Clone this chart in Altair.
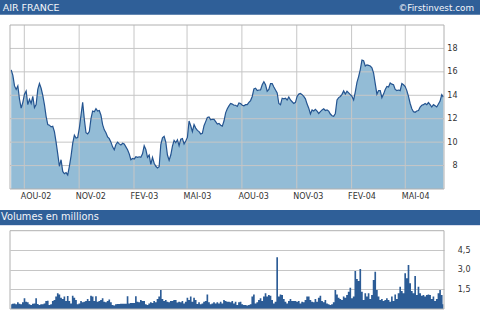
import altair as alt
import pandas as pd

# ---------------- texts ----------------
title_text = "AIR FRANCE"
source_text = "\u00a9Firstinvest.com"
volume_title = "Volumes en millions"

# ---------------- axes data ----------------
tick_dates = ["2002-08-01", "2002-11-01", "2003-02-01", "2003-05-01",
              "2003-08-01", "2003-11-01", "2004-02-01", "2004-05-01"]
tick_labels = ["AOU-02", "NOV-02", "FEV-03", "MAI-03",
               "AOU-03", "NOV-03", "FEV-04", "MAI-04"]
price_ticks = [8, 10, 12, 14, 16, 18]
volume_ticks = [1.5, 3.0, 4.5]
x_domain = ["2002-07-08", "2004-07-05"]
price_domain = [6, 20]
volume_domain = [0, 6]
series_start = "2002-07-10"
series_end = "2004-07-04"

# ---------------- series ----------------
price = [
    16.17, 15.7, 14.8, 14.5, 14.8, 13.66, 12.9, 13.4, 14.1, 14.37,
    13.2, 13.66, 13.3, 13.9, 12.95, 13.2, 14.5, 15.0, 14.6, 14.0,
    13.2, 12.2, 11.5, 11.45, 11.3, 11.35, 10.9, 10.0, 9.0, 7.94,
    8.5, 7.5, 7.3, 7.4, 7.2, 7.94, 8.8, 9.9, 10.6, 10.35,
    10.4, 11.2, 12.3, 13.4, 11.94, 10.8, 10.7, 10.9, 12.0, 12.66,
    12.6, 12.86, 12.66, 12.7, 12.3, 11.5, 11.05, 10.8, 10.45, 10.3,
    10.0, 9.6, 9.35, 9.8, 10.0, 9.85, 9.75, 9.9, 9.85, 9.6,
    9.35, 9.0, 8.5, 8.6, 8.55, 8.75, 8.7, 8.75, 8.7, 9.0,
    9.7, 9.37, 8.7, 8.9, 8.1, 8.7, 8.2, 7.94, 7.8, 7.9,
    9.8, 10.37, 10.5, 10.0, 8.9, 8.45, 8.9, 9.66, 10.15, 9.95,
    10.2, 9.7, 10.25, 10.3, 9.85, 10.1, 10.4, 11.8, 11.4, 10.9,
    11.5, 11.2, 11.0, 10.9, 10.7, 10.75, 11.4, 11.75, 12.1, 12.15,
    11.9, 11.95, 11.94, 11.75, 11.55, 11.6, 11.45, 11.37, 11.8, 12.5,
    12.85, 13.1, 13.3, 13.25, 13.15, 13.15, 13.05, 13.35,
    13.3, 13.15, 13.1, 13.2, 13.2, 13.4, 13.55, 13.9, 14.55, 14.6,
    14.4, 14.45, 14.45, 14.9, 15.15, 14.9, 14.35, 14.5, 15.0, 15.0,
    14.7, 14.45, 14.2, 13.3, 13.2, 13.75, 13.7, 13.75, 13.6, 13.85,
    13.6, 13.45, 13.3, 13.4, 13.9, 14.1, 14.15, 14.05, 13.9, 13.7,
    13.25, 12.9, 12.4, 12.75, 12.66, 12.8, 12.65, 12.45, 12.6, 12.75,
    12.85, 12.7, 12.75, 12.65, 12.4, 12.25, 12.2, 12.45, 13.6, 13.8,
    13.9, 14.08, 14.37, 14.1, 14.35, 14.2, 14.05, 13.9, 13.6, 14.3,
    15.1, 15.6, 16.2, 17.0, 16.95, 16.5, 16.6, 16.55, 16.5, 16.35,
    15.9, 15.0, 14.1, 14.4, 14.4, 13.8, 14.1, 14.5, 14.75, 14.7,
    15.05, 14.95, 14.9, 14.5, 14.4, 14.45, 14.4, 15.0, 14.9, 14.75,
    14.4, 13.9, 13.3, 12.85, 12.6, 12.55, 12.66, 12.7, 13.0, 13.15,
    13.2, 13.3, 13.2, 13.38, 13.2, 13.0, 13.2, 13.1, 13.0, 13.25,
    13.5, 14.05, 13.85,
]

volume = [
    0.36, 0.41, 0.43, 0.36, 0.51, 0.41, 0.36, 0.51, 0.82, 0.56,
    0.51, 0.36, 0.31, 0.41, 0.43, 0.82, 0.38, 0.31, 0.36, 0.36,
    0.43, 0.61, 0.64, 0.31, 0.36, 0.61, 0.69, 0.95, 1.2, 1.12,
    0.87, 0.77, 0.95, 0.61, 1.0, 0.61, 0.43, 1.02, 0.87, 0.69,
    0.36, 0.43, 0.61, 0.51, 0.56, 0.61, 0.77, 0.61, 1.02, 0.95,
    0.61, 0.97, 0.56, 0.61, 0.69, 0.82, 0.56, 0.51, 0.61, 0.72,
    0.51, 0.31, 0.26, 0.36, 0.38, 0.38, 0.41, 0.41, 0.41, 0.41,
    0.97, 0.43, 0.46, 0.46, 0.46, 0.97, 0.56, 0.51, 0.69, 0.61,
    0.61, 0.36, 0.31, 0.43, 0.51, 0.46, 0.61, 0.51, 0.77, 0.95,
    1.46, 0.77, 0.61, 0.69, 0.56, 0.51, 0.61, 0.61, 0.69, 0.69,
    0.49, 0.56, 0.51, 0.61, 0.43, 0.56, 0.87, 0.69, 0.95, 0.56,
    0.87, 0.69, 0.38, 0.51, 0.36, 0.43, 0.56, 0.61, 1.12, 0.51,
    0.36, 0.43, 0.51, 0.43, 0.51, 0.43, 0.56, 0.43, 0.69, 0.61,
    0.56,
    0.56, 0.51, 0.61, 0.43, 0.56, 0.31, 0.51, 0.56, 0.36, 0.31,
    0.31, 0.26, 0.31, 0.36, 0.95, 1.12, 0.43, 0.51, 0.69, 0.82,
    0.61, 0.95, 1.2, 0.95, 1.07, 1.02, 0.69, 0.43, 0.56, 3.96,
    0.95, 1.12, 1.07, 0.77, 0.56, 0.43, 0.61, 0.77, 0.61, 0.61,
    0.61, 0.56, 0.61, 0.43, 0.56, 0.51, 0.69, 0.95, 0.95, 0.69,
    0.56, 0.51, 0.77, 0.56, 0.87, 1.02, 0.61, 0.51, 0.69, 0.43,
    0.36, 0.31, 0.36, 0.51, 1.46, 1.12, 0.87, 0.77, 0.69, 0.95,
    0.87, 1.07, 1.33, 1.63, 0.82, 0.95, 2.91, 2.3, 2.15, 3.07,
    1.33, 0.69, 1.2, 0.95, 1.2, 0.77, 1.07, 2.22, 2.86, 1.46,
    0.95, 0.69, 0.77, 0.61, 0.69, 0.82, 0.69, 0.56, 0.95, 0.61,
    1.12, 0.77, 1.2, 1.71, 1.38, 1.2, 2.73, 2.35, 3.37, 1.97,
    1.38, 1.2, 2.53, 1.07, 1.71, 1.2, 1.02, 1.07, 0.95, 1.07,
    1.12, 1.07, 0.77, 0.95, 0.61, 0.77, 1.2, 1.46, 1.07, 0.36,
]

# ---------------- styling ----------------
HEADER = "#2f5f98"
FILL = "#93bcd6"
LINE = "#245490"
VOL = "#2c5c96"
GRID = "#c6c6c6"
BORDER = "#b0b0b0"
LABEL = "#333333"
FONT = "DejaVu Sans"

W, H = 434, 284
PRICE_BOTTOM = 164
VOL_TOP = 205.7


def to_ms(d):
    return int(pd.Timestamp(d).value // 10**6)


tick_ms = [to_ms(d) for d in tick_dates]
x_dom_ms = [to_ms(d) for d in x_domain]

price_df = pd.DataFrame({
    "t": (pd.date_range(series_start, series_end, periods=len(price)).asi8 // 10**6),
    "price": price,
})
price_df["base"] = price_domain[0]
vol_df = pd.DataFrame({
    "t": (pd.date_range(series_start, series_end, periods=len(volume)).asi8 // 10**6),
    "vol": volume,
})
vgrid_df = pd.DataFrame({"t": tick_ms})
hgrid_df = pd.DataFrame({"price": price_ticks})
one = pd.DataFrame({"k": [0]})

label_expr = "''"
for ms, lab in reversed(list(zip(tick_ms, tick_labels))):
    label_expr = f"time(datum.value) == {ms} ? '{lab}' : ({label_expr})"

x_scale = alt.Scale(domain=x_dom_ms, nice=False)
x_axis = alt.Axis(values=tick_ms, labelExpr=label_expr, grid=False, domain=False,
                  ticks=False, labelFont=FONT, labelFontSize=8, labelColor=LABEL,
                  labelAlign="left", labelOffset=-4, labelPadding=3,
                  labelBaseline="top", offset=PRICE_BOTTOM - H, title=None,
                  labelOverlap=False, labelFlush=False)

py_scale = alt.Scale(domain=price_domain, range=[PRICE_BOTTOM, 0], zero=False, nice=False)
py_axis = alt.Axis(values=price_ticks, orient="right", grid=False, domain=False,
                   ticks=False, labelAlign="right", labelPadding=13, labelFont=FONT,
                   labelFontSize=8, labelColor=LABEL, title=None, labelOverlap=False)

vy_scale = alt.Scale(domain=volume_domain, range=[H, VOL_TOP], nice=False)
vy_axis = alt.Axis(values=volume_ticks, orient="right", grid=True, gridColor=GRID,
                   domain=False, ticks=False, labelAlign="right", labelPadding=26,
                   labelFont=FONT, labelFontSize=8, labelColor=LABEL, title=None,
                   labelOverlap=False,
                   labelExpr="replace(format(datum.value, '.1f'), '.', ',')")

X = alt.X("t:T", scale=x_scale, axis=x_axis)

area = alt.Chart(price_df).mark_area(color=FILL, opacity=1).encode(
    x=X, y=alt.Y("price:Q", scale=py_scale, axis=py_axis), y2="base:Q")
vgrid = alt.Chart(vgrid_df).mark_rule(color=GRID, strokeWidth=1).encode(
    x=X, y=alt.value(0), y2=alt.value(PRICE_BOTTOM))
hgrid = alt.Chart(hgrid_df).mark_rule(color=GRID, strokeWidth=1).encode(
    y=alt.Y("price:Q", scale=py_scale, axis=py_axis), x=alt.value(0), x2=alt.value(W))
line = alt.Chart(price_df).mark_line(color=LINE, strokeWidth=1.2).encode(
    x=X, y=alt.Y("price:Q", scale=py_scale, axis=py_axis))
price_group = alt.layer(area, vgrid, hgrid, line)

vol_area = alt.Chart(vol_df).mark_area(interpolate="step", color=VOL, opacity=1).encode(
    x=X, y=alt.Y("vol:Q", scale=vy_scale, axis=vy_axis))
vol_group = alt.layer(vol_area)

border_price = alt.Chart(one).mark_rect(fillOpacity=0, stroke=BORDER, strokeWidth=1).encode(
    x=alt.value(0), x2=alt.value(W), y=alt.value(0), y2=alt.value(PRICE_BOTTOM))
border_vol = alt.Chart(one).mark_rect(fillOpacity=0, stroke=BORDER, strokeWidth=1).encode(
    x=alt.value(0), x2=alt.value(W), y=alt.value(VOL_TOP), y2=alt.value(H))

bar1 = alt.Chart(one).mark_rect(color=HEADER).encode(
    x=alt.value(-10), x2=alt.value(470), y=alt.value(-25), y2=alt.value(-10.3))
bar2 = alt.Chart(one).mark_rect(color=HEADER).encode(
    x=alt.value(-10), x2=alt.value(470), y=alt.value(185), y2=alt.value(200))
bar2_line = alt.Chart(one).mark_rect(color="#d8dded").encode(
    x=alt.value(-10), x2=alt.value(470), y=alt.value(200), y2=alt.value(201))

t1 = alt.Chart(one).mark_text(text=title_text, align="left", baseline="alphabetic",
                              font=FONT, fontSize=9.5, color="#f4f6fa").encode(
    x=alt.value(-7.3), y=alt.value(-14.4))
t2 = alt.Chart(one).mark_text(text=source_text, align="right", baseline="alphabetic",
                              font=FONT, fontSize=8.8, color="#f4f6fa").encode(
    x=alt.value(464), y=alt.value(-14.4))
t3 = alt.Chart(one).mark_text(text=volume_title, align="left", baseline="alphabetic",
                              font=FONT, fontSize=9.8, color="#f4f6fa").encode(
    x=alt.value(-9), y=alt.value(195.3))

chart = alt.layer(
    price_group, vol_group, border_price, border_vol, bar1, bar2, bar2_line, t1, t2, t3
).resolve_scale(y="independent").properties(
    width=W, height=H,
    autosize=alt.AutoSizeParams(type="none"),
    padding={"left": 10, "top": 25, "right": 36, "bottom": 11},
    background="white",
).configure_view(strokeWidth=0)

chart.save("out.html", embed_options={"renderer": "svg", "actions": False})
